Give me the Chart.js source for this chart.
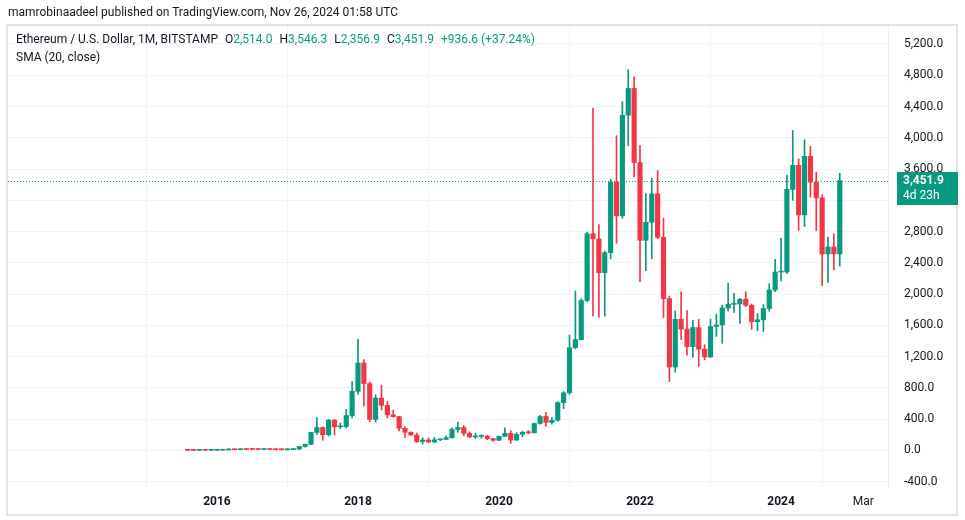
<!DOCTYPE html>
<html>
<head>
<meta charset="utf-8">
<script src="https://cdn.jsdelivr.net/npm/chart.js@4.4.1/dist/chart.umd.min.js"></script>
<style>
  html, body { margin: 0; padding: 0; background: #fff; overflow: hidden; }
  body { width: 965px; height: 520px; position: relative; font-family: Roboto, "Noto Sans", sans-serif; color: #131722; }
  #wrap { position: absolute; left: 0; top: 0; width: 965px; height: 520px; }
  .txt { position: absolute; font-size: 12px; white-space: nowrap; line-height: 14px; }
  .g { color: #089981; }
  .k { margin-left: 7px; }
</style>
</head>
<body>
<div id="wrap"><canvas id="myChart" width="965" height="520"></canvas></div>
<div class="txt" style="left:8px; top:5px;">mamrobinaadeel published on TradingView.com, Nov 26, 2024 01:58 UTC</div>
<div class="txt" id="legend1" style="left:16px; top:32px;"></div>
<div class="txt" style="left:16px; top:50px;">SMA (20, close)</div>
<script>
// monthly candles, Aug 2015 .. Nov 2024
var firstMonth = '2015-08'

var opens = [
  2.77, 1.35, 0.74, 0.96, 0.87,
  0.93, 2.21, 6.37, 11.40, 8.80, 14.00, 12.40, 12.20, 11.30, 13.20, 11.00, 8.60,
  8.00, 10.70, 15.80, 49.70, 78.10, 230, 293, 201, 388, 302, 305, 446,
  756, 1118, 855, 397, 670, 577, 455, 433, 283, 232, 197, 113,
  133, 107, 136, 141, 162, 268, 293, 218, 172, 180, 182, 151,
  130, 179, 218, 133, 206, 231, 225, 345, 434, 359, 386, 612,
  737, 1314, 1417, 1918, 2772, 2707, 2275, 2530, 3433, 3001, 4288, 4631,
  3683, 2688, 2919, 3282, 2727, 1942, 1067, 1679, 1553, 1328, 1572, 1296,
  1196, 1585, 1605, 1822, 1869, 1874, 1934, 1857, 1646, 1671, 1815, 2052,
  2282, 2283, 3340, 3647, 3013, 3763, 3432, 3232, 2513, 2603, 2514.0
]
var highs = [
  2.80, 1.40, 1.27, 1.10, 0.97,
  2.60, 6.65, 15.07, 11.90, 14.60, 21.50, 14.85, 12.30, 14.30, 13.20, 11.40, 8.90,
  11.30, 16.00, 54.00, 80.20, 231, 420, 300, 397, 395, 350, 523, 880,
  1422, 1161, 878, 710, 835, 627, 516, 434, 301, 237, 222, 160,
  160, 166, 145, 185, 288, 362, 318, 238, 224, 199, 194, 155,
  184, 288, 253, 227, 246, 254, 349, 448, 488, 422, 623, 753,
  1476, 2040, 1943, 2795, 4380, 2890, 2551, 3470, 4027, 4460, 4870, 4780,
  3900, 3285, 3482, 3580, 2970, 1975, 1784, 2030, 1790, 1665, 1678, 1352,
  1680, 1743, 1860, 2142, 2010, 1945, 2030, 1875, 1750, 1865, 2134, 2445,
  2717, 3522, 4093, 3730, 3975, 3890, 3560, 3270, 2730, 2770, 3546.3
]
var lows = [
  0.42, 0.55, 0.40, 0.83, 0.80,
  0.93, 2.13, 6.35, 6.90, 8.50, 11.00, 10.50, 10.20, 11.30, 10.50, 8.30, 6.25,
  7.90, 10.40, 15.70, 42.70, 76.30, 206, 130, 185, 198, 280, 285, 415,
  717, 570, 367, 362, 517, 417, 424, 250, 167, 188, 102, 82,
  101, 102, 125, 140, 156, 231, 190, 162, 153, 155, 137, 116,
  126, 179, 90, 128, 176, 215, 224, 336, 308, 335, 373, 535,
  715, 1300, 1412, 1900, 1720, 1700, 1718, 2452, 2650, 2970, 3900, 3500,
  2160, 2300, 2450, 2710, 1700, 881, 1000, 1420, 1220, 1190, 1073, 1160,
  1190, 1460, 1370, 1785, 1765, 1626, 1840, 1550, 1531, 1522, 1780, 2030,
  2167, 2265, 3200, 2815, 2865, 3240, 2810, 2110, 2150, 2310, 2356.9
]
var closes = [
  1.35, 0.74, 0.96, 0.87, 0.93,
  2.21, 6.37, 11.40, 8.80, 14.00, 12.40, 12.20, 11.30, 13.20, 11.00, 8.60, 8.00,
  10.70, 15.80, 49.70, 78.10, 230, 293, 201, 388, 302, 305, 446, 756,
  1118, 855, 397, 670, 577, 455, 433, 283, 232, 197, 113, 133,
  107, 136, 141, 162, 268, 293, 218, 172, 180, 182, 151, 130,
  179, 218, 133, 206, 231, 225, 345, 434, 359, 386, 612, 737,
  1314, 1417, 1918, 2772, 2707, 2275, 2530, 3433, 3001, 4288, 4631, 3683,
  2688, 2919, 3282, 2727, 1942, 1067, 1679, 1553, 1328, 1572, 1296, 1196,
  1585, 1605, 1822, 1869, 1874, 1934, 1857, 1646, 1671, 1815, 2052, 2282,
  2283, 3340, 3647, 3013, 3763, 3432, 3232, 2513, 2603, 2515.3, 3451.9
]

// axis ticks (x in months counted from Jan 2016)
var xTickValues = [0, 24, 48, 72, 96, 110]
var xTickLabels = ['2016', '2018', '2020', '2022', '2024', 'Mar']
var yTickValues = [-400, 0, 400, 800, 1200, 1600, 2000, 2400, 2800, 3200, 3600, 4000, 4400, 4800, 5200]

var upColor = '#089981'
var downColor = '#f23645'
var fontFamily = 'Roboto, "Noto Sans", sans-serif'

function fmt(v) {
    return v.toLocaleString('en-US', { minimumFractionDigits: 1, maximumFractionDigits: 1 })
}

var startIdx = (parseInt(firstMonth.slice(0, 4)) - 2016) * 12 + parseInt(firstMonth.slice(5)) - 1
var bodies = [], wicks = [], colors = []
for (let i = 0; i < closes.length; i++) {
    let x = startIdx + i
    bodies.push({ x: x, y: [opens[i], closes[i]] })
    wicks.push({ x: x, y: [lows[i], highs[i]] })
    colors.push(closes[i] >= opens[i] ? upColor : downColor)
}

var last = closes.length - 1
var lastClose = closes[last]
var change = lastClose - closes[last - 1]
var pct = change / closes[last - 1] * 100
document.getElementById('legend1').innerHTML =
    'Ethereum / U.S. Dollar, 1M, BITSTAMP<span class="k">O</span><span class="g">' + fmt(opens[last]) +
    '</span><span class="k">H</span><span class="g">' + fmt(highs[last]) +
    '</span><span class="k">L</span><span class="g">' + fmt(lows[last]) +
    '</span><span class="k">C</span><span class="g">' + fmt(lastClose) +
    '</span><span class="g k">' + (change >= 0 ? '+' : '') + fmt(change) +
    ' (' + (pct >= 0 ? '+' : '') + pct.toFixed(2) + '%)</span>'

var framePlugin = {
    id: 'frame',
    beforeDraw(chart) {
        let c = chart.ctx
        c.save()
        c.strokeStyle = '#e0e3eb'
        c.lineWidth = 2
        c.strokeRect(7, 25, 950, 490)
        c.restore()
    },
    afterDraw(chart) {
        let c = chart.ctx
        let area = chart.chartArea
        let y = chart.scales.y.getPixelForValue(lastClose)
        c.save()
        c.strokeStyle = upColor
        c.lineWidth = 1
        c.setLineDash([1, 2])
        c.beginPath()
        c.moveTo(area.left, Math.round(y) + 0.5)
        c.lineTo(area.right, Math.round(y) + 0.5)
        c.stroke()
        c.setLineDash([])
        // last price label on the price axis
        let bx = area.right + 9, by = Math.round(y) - 9
        c.fillStyle = upColor
        c.fillRect(bx, by, 61, 33)
        c.fillStyle = '#ffffff'
        c.textAlign = 'left'
        c.textBaseline = 'middle'
        c.font = 'bold 12px ' + fontFamily
        c.fillText(fmt(lastClose), bx + 6, by + 9)
        c.font = '12px ' + fontFamily
        c.fillText('4d 23h', bx + 6, by + 24)
        c.restore()
    }
}

let ctx = document.getElementById('myChart').getContext('2d');
let myChart = new Chart(ctx, {
    type: 'bar',
    data: {
        datasets: [{
            label: 'Body',
            data: bodies,
            backgroundColor: colors,
            borderWidth: 0,
            barThickness: 4.5,
            minBarLength: 1,
            grouped: false
        },
        {
            label: 'Wick',
            data: wicks,
            backgroundColor: colors,
            borderWidth: 0,
            barThickness: 1,
            minBarLength: 1,
            grouped: false
        }]
    },
    options: {
        responsive: false,
        animation: false,
        layout: { padding: { left: 8, top: 26, right: 8, bottom: 5 } },
        plugins: {
            legend: { display: false },
            tooltip: { enabled: false }
        },
        scales: {
            x: {
                type: 'linear',
                min: -35.57,
                max: 114.21,
                offset: false,
                border: { display: false },
                grid: { color: '#f0f3fa', drawTicks: false },
                afterBuildTicks(scale) {
                    scale.ticks = xTickValues.map(v => ({ value: v }))
                },
                afterFit(scale) { scale.height = 28 },
                ticks: {
                    padding: 8,
                    maxRotation: 0,
                    autoSkip: false,
                    color: '#131722',
                    font: function (c) {
                        let bold = c.tick && xTickLabels[xTickValues.indexOf(c.tick.value)] !== 'Mar'
                        return { family: fontFamily, size: 12, weight: bold ? 'bold' : 'normal' }
                    },
                    callback: function (v) {
                        return xTickLabels[xTickValues.indexOf(v)]
                    }
                }
            },
            y: {
                position: 'right',
                min: -468,
                max: 5430,
                border: { display: true, color: '#eef0f5' },
                grid: { color: '#f0f3fa', drawTicks: false },
                afterBuildTicks(scale) {
                    scale.ticks = yTickValues.map(v => ({ value: v }))
                },
                afterFit(scale) { scale.width = 69 },
                ticks: {
                    padding: 16,
                    crossAlign: 'near',
                    color: '#131722',
                    font: { family: fontFamily, size: 12 },
                    callback: function (v) { return fmt(v) }
                }
            }
        }
    },
    plugins: [framePlugin]
});
</script>
</body>
</html>
